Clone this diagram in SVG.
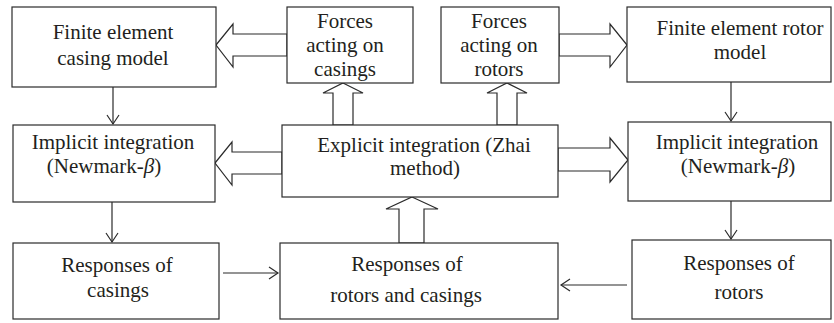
<svg xmlns="http://www.w3.org/2000/svg" width="834" height="323" viewBox="0 0 834 323">
  <style>
    .box { fill: #ffffff; stroke: #2b2b2b; stroke-width: 1.2; }
    .label { font-family: "Liberation Serif", "Times New Roman", serif; font-size: 21px; fill: #231f20; text-anchor: middle; }
    .block { fill: #ffffff; stroke: #2b2b2b; stroke-width: 1.2; stroke-linejoin: miter; }
    .thin { fill: none; stroke: #2b2b2b; stroke-width: 1.2; }
  </style>
  <defs>
    <marker id="open" markerUnits="userSpaceOnUse" markerWidth="14" markerHeight="14" refX="10" refY="7" orient="auto">
      <path d="M1,1 L10,7 L1,13" fill="none" stroke="#2b2b2b" stroke-width="1.2"/>
    </marker>
  </defs>
  <rect width="834" height="323" fill="#ffffff"/>

  <!-- connectors -->
  <g id="connectors">
    <!-- hollow block arrows -->
    <polygon class="block" points="216,45 233,24 233,34 287,34 287,56 233,56 233,67"/>
    <polygon class="block" points="627,45 610,24 610,34 559,34 559,56 610,56 610,67"/>
    <polygon class="block" points="343,83 363,93 353,93 353,125 333,125 333,93 323,93"/>
    <polygon class="block" points="507,83 527,93 517,93 517,125 497,125 497,93 487,93"/>
    <polygon class="block" points="215,163 232,142 232,152 282,152 282,174 232,174 232,185"/>
    <polygon class="block" points="628,160 610,138 610,148 558,148 558,171 610,171 610,182"/>
    <polygon class="block" points="412,197 438,209 424,209 424,243 399,243 399,209 386,209"/>
    <!-- thin arrows -->
    <line class="thin" x1="113" y1="87" x2="113" y2="124" marker-end="url(#open)"/>
    <line class="thin" x1="112" y1="202" x2="112" y2="242" marker-end="url(#open)"/>
    <line class="thin" x1="731" y1="82" x2="731" y2="121" marker-end="url(#open)"/>
    <line class="thin" x1="731" y1="201" x2="731" y2="239" marker-end="url(#open)"/>
    <line class="thin" x1="223" y1="273" x2="278" y2="273" marker-end="url(#open)"/>
    <line class="thin" x1="627" y1="285" x2="561" y2="285" marker-end="url(#open)"/>
  </g>

  <g id="casing-model">
    <rect class="box" x="12" y="7" width="204" height="80"/>
    <text class="label" x="113" y="39">Finite element</text>
    <text class="label" x="113" y="65">casing model</text>
  </g>
  <g id="forces-casings">
    <rect class="box" x="287" y="7" width="126" height="76"/>
    <text class="label" x="345" y="28">Forces</text>
    <text class="label" x="345" y="52">acting on</text>
    <text class="label" x="345" y="76">casings</text>
  </g>
  <g id="forces-rotors">
    <rect class="box" x="441" y="7" width="118" height="76"/>
    <text class="label" x="499" y="28">Forces</text>
    <text class="label" x="499" y="52">acting on</text>
    <text class="label" x="499" y="76">rotors</text>
  </g>
  <g id="rotor-model">
    <rect class="box" x="627" y="7" width="204" height="75"/>
    <text class="label" x="740" y="35">Finite element rotor</text>
    <text class="label" x="740" y="59">model</text>
  </g>
  <g id="implicit-casings">
    <rect class="box" x="13" y="125" width="202" height="77"/>
    <text class="label" x="113" y="149">Implicit integration</text>
    <text class="label" x="104" y="173">(Newmark-<tspan font-style="italic">β</tspan>)</text>
  </g>
  <g id="explicit">
    <rect class="box" x="282" y="125" width="276" height="72"/>
    <text class="label" x="424" y="152">Explicit integration (Zhai</text>
    <text class="label" x="425" y="175">method)</text>
  </g>
  <g id="implicit-rotors">
    <rect class="box" x="628" y="122" width="203" height="79"/>
    <text class="label" x="737" y="149">Implicit integration</text>
    <text class="label" x="738" y="173">(Newmark-<tspan font-style="italic">β</tspan>)</text>
  </g>
  <g id="responses-casings">
    <rect class="box" x="13" y="243" width="206" height="76"/>
    <text class="label" x="117" y="272">Responses of</text>
    <text class="label" x="118" y="297">casings</text>
  </g>
  <g id="responses-both">
    <rect class="box" x="280" y="243" width="278" height="76"/>
    <text class="label" x="407" y="271">Responses of</text>
    <text class="label" x="406" y="302">rotors and casings</text>
  </g>
  <g id="responses-rotors">
    <rect class="box" x="632" y="240" width="199" height="79"/>
    <text class="label" x="739" y="270">Responses of</text>
    <text class="label" x="739" y="299">rotors</text>
  </g>
</svg>
